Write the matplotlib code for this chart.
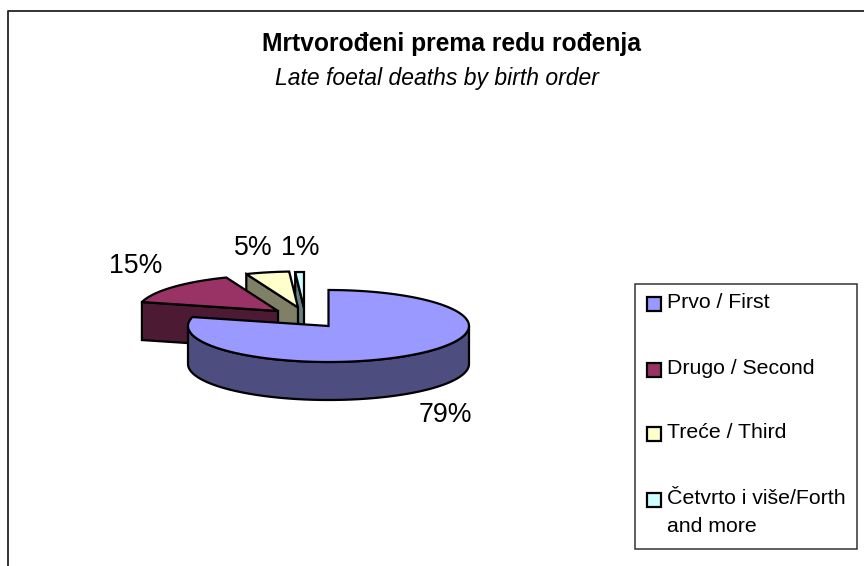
import numpy as np
import matplotlib
matplotlib.use("Agg")
import matplotlib.pyplot as plt
from matplotlib.patches import Polygon, Rectangle

categories = ["Prvo / First", "Drugo / Second", "Treće / Third", "Četvrto i više/Forth\nand more"]
values = [79, 15, 5, 1]
top_colors = ["#9999FF", "#993366", "#FFFFCC", "#CCFFFF"]
side_colors = ["#4D4D80", "#4D1A33", "#808066", "#668080"]
pct_labels = ["79%", "15%", "5%", "1%"]
title = "Mrtvorođeni prema redu rođenja"
subtitle = "Late foetal deaths by birth order"

W, H = 864, 566
plt.rcParams["font.family"] = ["Liberation Sans", "DejaVu Sans"]
fig = plt.figure(figsize=(W / 100, H / 100), dpi=100)
px = fig.add_axes([0, 0, 1, 1])
px.set_xlim(0, W)
px.set_ylim(H, 0)
px.axis("off")

# Frame: open at right and bottom, as in the reference
px.plot([8, 8, W], [H, 11, 11], color="#222222", lw=1.3, clip_on=False)

px.text(451, 44, title, ha="center", va="center", fontsize=17.7, fontweight="bold")
px.text(436.5, 78, subtitle, ha="center", va="center", fontsize=16.5, style="italic")

# Pie geometry (pixels)
RX, RY, DEPTH = 140.5, 36.0, 38.0
centers = [(328.5, 326.0), (278.0, 311.0), (298.0, 307.5), (304.0, 308.0)]

fr = np.array(values, dtype=float) / sum(values)
ends = 90 - 360 * np.cumsum(fr)
starts = np.r_[90.0, ends[:-1]]


def pt(c, t):
    t = np.radians(t)
    return np.array([c[0] + RX * np.cos(t), c[1] - RY * np.sin(t)])


def draw_slice(i, z):
    c = centers[i]
    hi, lo = starts[i], ends[i]
    ts = np.linspace(hi, lo, 140)
    top = [np.array(c)] + [pt(c, t) for t in ts]
    down = np.array([0, DEPTH])
    if i > 0:
        # radial cut face on the edge that looks towards the viewer
        a = np.array(c)
        b = pt(c, hi)
        px.add_patch(Polygon([a, b, b + down, a + down], fc=side_colors[i], ec="k", lw=1.6, zorder=z))
    else:
        # outer curved wall across the front of the pie
        arc = np.linspace(180, 360, 100)
        o = np.array([pt(c, t) for t in arc])
        px.add_patch(Polygon(np.vstack([o, (o + down)[::-1]]), fc=side_colors[i], ec="k", lw=1.6, zorder=z))
    px.add_patch(Polygon(top, fc=top_colors[i], ec="k", lw=1.6, zorder=z + 0.5))


for z, i in enumerate([3, 2, 1, 0]):
    draw_slice(i, 2 + z)

label_pos = [(445, 415), (136, 266), (253, 248), (300, 248)]
for s, (x, y) in zip(pct_labels, label_pos):
    px.text(x, y, s, ha="center", va="center", fontsize=19.2, zorder=10)

# Legend
px.add_patch(Rectangle((635, 283.5), 222, 265.5, fc="white", ec="#333333", lw=1.1, zorder=2))
ys = [301, 367, 431, 497]
for y, color, cat in zip(ys, top_colors, categories):
    px.add_patch(Rectangle((646.5, y - 4.5), 14, 14, fc=color, ec="k", lw=1.6, zorder=3))
    lines = cat.split("\n")
    for k, line in enumerate(lines):
        px.text(667, y + 1.5 + 28 * k, line, va="center", fontsize=15.3, zorder=3)

fig.savefig("out.png", dpi=100, facecolor="white")
